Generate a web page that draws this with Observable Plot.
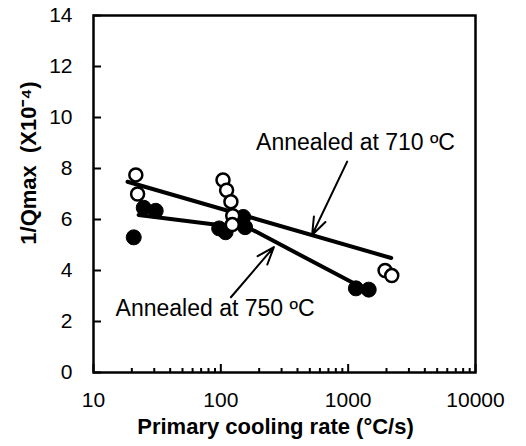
<!DOCTYPE html>
<html>
<head>
<meta charset="utf-8">
<script src="https://cdn.jsdelivr.net/npm/d3@7"></script>
<script src="https://cdn.jsdelivr.net/npm/@observablehq/plot@0.6"></script>
<style>
  html, body { margin: 0; padding: 0; background: #fff; }
</style>
</head>
<body>
<div id="chart"></div>
<script>
// Annealed at 710 °C (open circles)
const openX = [21.5, 22.2, 104, 111, 120, 124, 123, 1950, 2200];
const openY = [7.75, 7.0, 7.55, 7.15, 6.7, 6.15, 5.8, 4.0, 3.8];
// Annealed at 750 °C (filled circles)
const filledX = [20.7, 24.8, 30.8, 97, 109, 150, 155, 1150, 1450];
const filledY = [5.3, 6.46, 6.34, 5.65, 5.5, 6.1, 5.7, 3.3, 3.25];
// fitted lines
const line710X = [18.5, 2180];
const line710Y = [7.48, 4.49];
const line750X = [22.6, 172, 1260];
const line750Y = [6.18, 5.63, 3.35];
// annotations
const labels = ["Annealed at 710 \u00baC", "Annealed at 750 \u00baC"];
const labelX = [189, 14.9];
const labelY = [9.0, 2.52];
const arrowX1 = [982, 120];
const arrowY1 = [8.27, 2.95];
const arrowX2 = [521, 261];
const arrowY2 = [5.39, 4.92];
// ticks
const xTicks = [10, 100, 1000, 10000];
const xMinor = [20,30,40,50,60,70,80,90,200,300,400,500,600,700,800,900,2000,3000,4000,5000,6000,7000,8000,9000];
const yTicks = [0, 2, 4, 6, 8, 10, 12, 14];
const xTitle = "Primary cooling rate (\u00b0C/s)";
const yTitle = "1/Qmax  (X10\u207b\u2074)";

const openPts = openX.map((x, i) => ({x, y: openY[i]}));
const filledPts = filledX.map((x, i) => ({x, y: filledY[i]}));
const l710 = line710X.map((x, i) => ({x, y: line710Y[i]}));
const l750 = line750X.map((x, i) => ({x, y: line750Y[i]}));
const ann = labels.map((t, i) => ({t, x: labelX[i], y: labelY[i]}));
const arrows = arrowX1.map((x1, i) => ({x1, y1: arrowY1[i], x2: arrowX2[i], y2: arrowY2[i]}));

const font = "'Liberation Sans', Arial, Helvetica, sans-serif";

const chart = Plot.plot({
  width: 526,
  height: 446,
  marginLeft: 93,
  marginRight: 51,
  marginTop: 15,
  marginBottom: 74,
  style: {fontFamily: font, fontSize: "21px", color: "#000", background: "#fff"},
  x: {type: "log", domain: [10, 10000]},
  y: {domain: [0, 14]},
  marks: [
    Plot.frame({stroke: "#000", strokeWidth: 2.5}),
    Plot.axisY(yTicks, {tickSize: -8, tickPadding: 29, strokeWidth: 2, fontSize: 21, label: null}),
    Plot.axisX(xTicks, {tickSize: -8, tickPadding: 28, strokeWidth: 2, fontSize: 21, label: null, tickFormat: d => String(d)}),
    Plot.axisX(xMinor, {tickSize: -4, tickFormat: () => "", strokeWidth: 2, label: null}),
    Plot.line(l710, {x: "x", y: "y", stroke: "#000", strokeWidth: 4}),
    Plot.line(l750, {x: "x", y: "y", stroke: "#000", strokeWidth: 4}),
    Plot.dot(filledPts, {x: "x", y: "y", r: 7.5, fill: "#000", stroke: "#000", strokeWidth: 1}),
    Plot.dot(openPts, {x: "x", y: "y", r: 6.5, fill: "#fff", stroke: "#000", strokeWidth: 2.5}),
    Plot.arrow(arrows, {x1: "x1", y1: "y1", x2: "x2", y2: "y2", stroke: "#000", strokeWidth: 2, headLength: 14, headAngle: 40}),
    Plot.text(ann, {x: "x", y: "y", text: "t", textAnchor: "start", lineAnchor: "middle", fontSize: 23, fill: "#000"}),
    Plot.text([xTitle], {frameAnchor: "bottom", textAnchor: "middle", dx: -9, dy: 54, lineAnchor: "middle", fontSize: 22, fontWeight: "bold", letterSpacing: "2px", fill: "#000"}),
    Plot.text([yTitle], {frameAnchor: "left", textAnchor: "middle", dx: -65, dy: -31, rotate: -90, lineAnchor: "middle", fontSize: 22, fontWeight: "bold", letterSpacing: "0.3px", fill: "#000"})
  ]
});
document.getElementById("chart").appendChild(chart);
</script>
</body>
</html>
